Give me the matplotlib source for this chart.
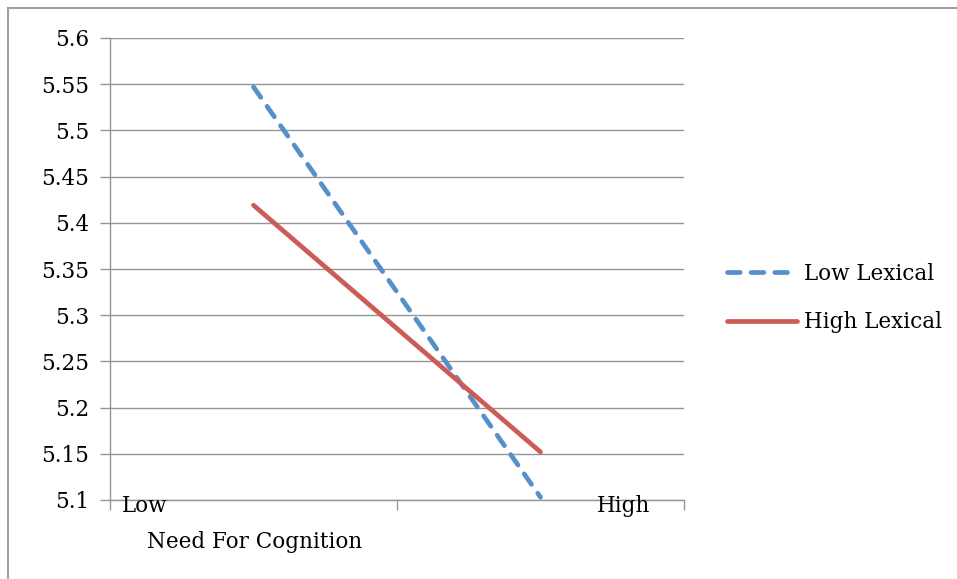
import matplotlib
matplotlib.use("Agg")
import matplotlib.pyplot as plt
from matplotlib.patches import Rectangle

# Interaction of need for cognition and lexical condition
groups = ["Low", "High"]
low_lexical = [5.547, 5.103]
high_lexical = [5.419, 5.152]
y_ticks = [5.1, 5.15, 5.2, 5.25, 5.3, 5.35, 5.4, 5.45, 5.5, 5.55, 5.6]
y_tick_labels = ["5.1", "5.15", "5.2", "5.25", "5.3", "5.35", "5.4", "5.45", "5.5", "5.55", "5.6"]

W, H = 957, 579
fig = plt.figure(figsize=(W / 100, H / 100), dpi=100)
plt.rcParams["font.family"] = ["DejaVu Serif"]
fs = 15.5

grid_col = "#959595"
ax = fig.add_axes([110 / W, 1 - 500 / H, (684 - 110) / W, (500 - 38) / H])

x = [0.5, 1.5]
ax.plot(x, low_lexical, color="#5690CA", lw=3.4, ls=(0, (2.7, 2.3)),
        dash_capstyle="round", solid_capstyle="round", label="Low Lexical", zorder=3)
ax.plot(x, high_lexical, color="#CD5C57", lw=3.4, solid_capstyle="round",
        label="High Lexical", zorder=3)

ax.set_xlim(0, 2)
ax.set_ylim(5.1, 5.6)
ax.set_yticks(y_ticks)
ax.set_yticklabels(y_tick_labels, fontsize=fs)
ax.set_xticks([0, 1, 2])
ax.set_xticklabels([])
ax.yaxis.grid(True, color=grid_col, lw=1.0)
ax.set_axisbelow(True)
ax.tick_params(axis="y", length=7, width=1, color=grid_col, pad=8)
ax.tick_params(axis="x", length=7, width=1, color=grid_col)
for s in ("top", "right"):
    ax.spines[s].set_visible(False)
for s in ("left", "bottom"):
    ax.spines[s].set_color(grid_col)
    ax.spines[s].set_linewidth(1.0)

# Category and axis labels
fig.text(122 / W, 1 - 506 / H, groups[0], fontsize=fs, ha="left", va="center")
fig.text(624 / W, 1 - 506 / H, groups[1], fontsize=fs, ha="center", va="center")
fig.text(255 / W, 1 - 542 / H, "Need For Cognition", fontsize=fs, ha="center", va="center")

ax.legend(loc="center left", bbox_to_anchor=(708 / W, 1 - 298 / H),
          bbox_transform=fig.transFigure, frameon=False, fontsize=fs,
          handlelength=3.25, handletextpad=0.3, labelspacing=1.25)

# Chart area border
fig.patches.append(Rectangle((8 / W, -0.05), 1.1, 1 - 8 / H + 0.05,
                             transform=fig.transFigure, fill=False,
                             edgecolor="#a0a0a0", lw=1.5))

fig.savefig("out.png", dpi=100)
